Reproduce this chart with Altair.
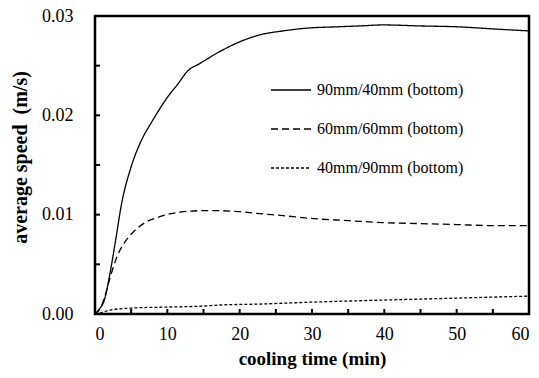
import altair as alt
import pandas as pd

series_names = ["90mm/40mm (bottom)", "60mm/60mm (bottom)", "40mm/90mm (bottom)"]

x_90_40 = [0, 0.7, 1.2, 2.1, 2.8, 3.7, 4.9, 6.3, 7.9, 10.0, 11.4, 13.0, 14.2, 17.2, 20.0, 22.8, 26.0, 29.7, 33.0, 36.6, 39.8, 45.0, 50.5, 55.0, 60.0]
y_90_40 = [0, 0.0006, 0.0012, 0.0042, 0.0072, 0.0112, 0.0146, 0.0173, 0.0194, 0.0218, 0.0231, 0.0246, 0.0251, 0.0264, 0.0274, 0.0281, 0.0285, 0.0288, 0.0289, 0.0290, 0.0291, 0.0290, 0.0289, 0.0287, 0.0285]

x_60_60 = [0, 0.6, 1.2, 2.1, 3.0, 4.0, 5.1, 6.7, 8.6, 10.5, 12.3, 14.7, 17.2, 20.0, 22.8, 26.0, 30.2, 35.0, 39.8, 45.0, 50.0, 55.0, 60.0]
y_60_60 = [0, 0.0004, 0.0014, 0.0037, 0.0057, 0.0071, 0.0081, 0.0091, 0.0097, 0.0101, 0.0103, 0.0104, 0.0104, 0.0103, 0.0101, 0.0099, 0.0096, 0.0094, 0.0092, 0.0091, 0.0090, 0.0089, 0.0089]

x_40_90 = [0, 0.7, 2.1, 5.1, 10.0, 15.0, 17.0, 22.8, 30.2, 39.8, 50.0, 60.0]
y_40_90 = [0, 0.0001, 0.0004, 0.0006, 0.0007, 0.0008, 0.0009, 0.0010, 0.0012, 0.0014, 0.0016, 0.0018]

x_ticks = [5, 10, 15, 20, 25, 30, 35, 40, 45, 50, 55]
y_ticks = [0.005, 0.01, 0.015, 0.02, 0.025]

rows = []
for name, xs, ys in zip(series_names, [x_90_40, x_60_60, x_40_90], [y_90_40, y_60_60, y_40_90]):
    for xv, yv in zip(xs, ys):
        rows.append({"series": name, "t": xv, "v": yv})
df = pd.DataFrame(rows)

W, H = 434, 298
FONT = "Liberation Serif"

xscale = alt.Scale(domain=[0, 60], nice=False, zero=False)
yscale = alt.Scale(domain=[0, 0.03], nice=False)

lines = alt.Chart(df).mark_line(color="black", strokeWidth=1.3, interpolate="monotone").encode(
    x=alt.X("t:Q", scale=xscale,
            axis=alt.Axis(title="cooling time (min)", values=[0, 10, 20, 30, 40, 50, 60],
                          ticks=False, domain=False, grid=False, labelPadding=11,
                          titlePadding=6)),
    y=alt.Y("v:Q", scale=yscale,
            axis=alt.Axis(title="average speed\u00a0 (m/s)", values=[0, 0.01, 0.02, 0.03], format=".2f",
                          ticks=False, domain=False, grid=False, labelPadding=22,
                          titlePadding=11, titleFontSize=20, titleY=141)),
    strokeDash=alt.StrokeDash("series:N",
                              scale=alt.Scale(domain=series_names, range=[[1, 0], [7, 4], [3, 2]]),
                              sort=series_names,
                              legend=alt.Legend(title=None, orient="none", legendX=175, legendY=53,
                                                symbolType="stroke", symbolSize=1600,
                                                symbolStrokeWidth=1.3, symbolStrokeColor="black",
                                                labelFont=FONT, labelFontSize=16, labelColor="black",
                                                labelOffset=5, rowPadding=10)),
    detail="series:N",
)

xt_df = pd.DataFrame({"t": x_ticks})
yt_df = pd.DataFrame({"v": y_ticks})

xt = alt.Chart(xt_df).mark_rule(color="black", strokeWidth=2).encode(
    x=alt.X("t:Q", scale=xscale), y=alt.value(H), y2=alt.value(H - 5))
yt = alt.Chart(yt_df).mark_rule(color="black", strokeWidth=2).encode(
    y=alt.Y("v:Q", scale=yscale), x=alt.value(0), x2=alt.value(5))

chart = alt.layer(lines, xt, yt).properties(
    width=W, height=H,
    autosize=alt.AutoSizeParams(type="none"),
    padding={"left": 95, "top": 16, "right": 10, "bottom": 64},
    background="white",
).configure_view(
    stroke="black", strokeWidth=2.5
).configure_axis(
    labelFont=FONT, labelFontSize=18, labelColor="black",
    titleFont=FONT, titleFontSize=19, titleFontWeight="bold", titleColor="black",
)

chart.save("out.html", embed_options={"renderer": "svg", "actions": False})
